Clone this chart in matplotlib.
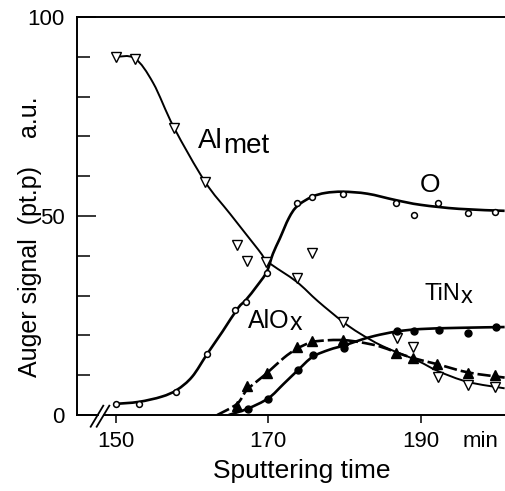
import numpy as np
import matplotlib
matplotlib.use('Agg')
import matplotlib.pyplot as plt
from matplotlib.path import Path
from matplotlib.patches import PathPatch
from matplotlib.lines import Line2D

plt.rcParams['font.family'] = ['Liberation Sans', 'DejaVu Sans']

# measured points (sputtering time in min, Auger signal in a.u.)
al_met_t = [150, 152.5, 157.6, 161.7, 165.9, 167.2, 169.7, 173.7, 175.7, 179.8, 186.9, 189.0, 192.3, 196.2, 199.7]
al_met_v = [90.0, 89.5, 72.1, 58.5, 42.7, 38.7, 38.5, 34.4, 40.7, 23.4, 19.3, 17.0, 9.5, 7.5, 7.0]

o_t = [150, 153, 157.9, 161.9, 165.6, 167.1, 169.8, 173.8, 175.7, 179.8, 186.7, 189.1, 192.3, 196.2, 199.7]
o_v = [2.8, 2.8, 5.8, 15.4, 26.4, 28.4, 35.7, 53.2, 54.8, 55.5, 53.2, 50.3, 53.3, 50.7, 51.0]

tin_t = [167.3, 170.0, 173.9, 175.8, 179.9, 186.9, 189.1, 192.4, 196.2, 199.9]
tin_v = [1.5, 4.0, 11.3, 15.1, 16.8, 21.1, 21.1, 21.4, 20.6, 22.1]

alox_t = [165.9, 167.2, 169.8, 173.7, 175.7, 179.8, 186.7, 189.0, 192.1, 196.2, 199.7]
alox_v = [2.3, 7.3, 10.5, 17.0, 18.6, 18.8, 15.6, 14.3, 12.8, 10.5, 10.0]

# hand drawn guide curves
al_met_fit_t = [150, 152.5, 154.9, 157.6, 161.7, 165, 168.7, 170, 173.7, 176.5, 179.8, 182, 185, 189.5, 192.3, 196.2, 201]
al_met_fit_v = [90, 89.6, 83.4, 72.3, 58.6, 50.5, 41.5, 38.4, 33.5, 28.6, 23.4, 20.5, 17.3, 13.7, 11.0, 8.3, 6.7]

o_fit_t = [150, 153, 156, 158, 160, 162, 164, 166, 167.1, 168.5, 169.8, 170.6, 171.5, 172.7, 173.8, 175.7, 177.5, 179.8, 183, 186.7, 190, 195, 201]
o_fit_v = [2.8, 3.3, 4.6, 6.3, 9.6, 15.4, 21.0, 26.8, 29.0, 32.4, 36.0, 40.5, 44.3, 49.5, 52.5, 54.8, 55.8, 56.1, 55.6, 54.0, 52.8, 51.8, 51.3]

tin_fit_t = [164.8, 167.3, 170, 172, 173.9, 175.8, 178, 180, 182, 184, 186.9, 190, 195, 201]
tin_fit_v = [0, 1.6, 4.2, 7.8, 11.3, 14.6, 16.4, 17.5, 18.8, 19.9, 21.0, 21.6, 21.9, 22.1]

alox_fit_t = [163.3, 165.9, 167.2, 169.8, 172, 173.7, 175.7, 178, 180, 182, 184.5, 186.7, 189, 192.1, 196.2, 201]
alox_fit_v = [0, 2.8, 6.3, 10.5, 14.3, 16.6, 18.3, 18.8, 18.8, 18.3, 17.3, 15.8, 14.3, 12.8, 10.7, 9.4]

x_ticks = [150, 170, 190]
y_major = [0, 50, 100]
y_minor = [10, 20, 30, 40, 60, 70, 80, 90]


def smooth_path(xs, ys):
    # catmull-rom through the knots, drawn as bezier segments
    pts = np.column_stack([xs, ys]).astype(float)
    ext = np.vstack([pts[0], pts, pts[-1]])
    verts = [pts[0]]
    codes = [Path.MOVETO]
    for i in range(1, len(ext) - 2):
        p0, p1, p2, p3 = ext[i - 1], ext[i], ext[i + 1], ext[i + 2]
        verts += [p1 + (p2 - p0) / 6, p2 - (p3 - p1) / 6, p2]
        codes += [Path.CURVE4] * 3
    return Path(verts, codes)


fig = plt.figure(figsize=(5.05, 4.91), dpi=100)
ax = fig.add_axes([77 / 505, 1 - 415 / 491, 428 / 505, 398 / 491])
ax.set_xlim(144.9, 201.05)
ax.set_ylim(0, 100)

ax.add_patch(PathPatch(smooth_path(al_met_fit_t, al_met_fit_v), fill=False, lw=1.4, ec='black', zorder=2))
ax.add_patch(PathPatch(smooth_path(o_fit_t, o_fit_v), fill=False, lw=1.9, ec='black', zorder=2))
ax.add_patch(PathPatch(smooth_path(tin_fit_t, tin_fit_v), fill=False, lw=1.9, ec='black', zorder=2))
ax.add_patch(PathPatch(smooth_path(alox_fit_t, alox_fit_v), fill=False, lw=1.9, ec='black',
                       ls=(0, (5, 1.5)), zorder=2))

ax.plot(al_met_t, al_met_v, 'v', ms=6.5, mfc='white', mec='black', mew=1.0, zorder=4)
ax.plot(o_t, o_v, 'o', ms=4.2, mfc='white', mec='black', mew=1.1, zorder=4)
ax.plot(tin_t, tin_v, 'o', ms=5, mfc='black', mec='black', zorder=4)
ax.plot(alox_t, alox_v, '^', ms=6.5, mfc='black', mec='black', zorder=4)

# axes frame
for side in ['right', 'bottom']:
    ax.spines[side].set_visible(False)
for side in ['top', 'left']:
    ax.spines[side].set_linewidth(1.4)

ax.add_line(Line2D([0, 0.0484], [0, 0], transform=ax.transAxes, color='black', lw=1.4, clip_on=False))
ax.add_line(Line2D([0.0624, 1], [0, 0], transform=ax.transAxes, color='black', lw=1.4, clip_on=False))
# axis break
ax.add_line(Line2D([0.0320, 0.0614], [-0.0294, 0.0234], transform=ax.transAxes, color='black', lw=1.3, clip_on=False))
ax.add_line(Line2D([0.0460, 0.0755], [-0.0294, 0.0234], transform=ax.transAxes, color='black', lw=1.3, clip_on=False))

ax.set_xticks(x_ticks)
ax.set_yticks(y_major)
ax.set_yticks(y_minor, minor=True)
ax.tick_params(axis='y', which='major', direction='in', length=14, width=1.1, labelsize=16, pad=9)
ax.tick_params(axis='y', which='minor', direction='in', length=9, width=1.1)
ax.tick_params(axis='x', direction='out', length=5.8, width=1.1, labelsize=16, pad=6)

ax.annotate('min', xy=(197.9, 0), xycoords=('data', 'axes fraction'), xytext=(0, -11.8),
            textcoords='offset points', ha='center', va='top', fontsize=16)

ax.text(0.5257, -0.158, 'Sputtering time', transform=ax.transAxes, ha='center', va='baseline', fontsize=19)
ax.text(-0.0935, 0.4485, 'Auger signal  (pt.p)    a.u.', transform=ax.transAxes, rotation=90,
        rotation_mode='anchor', ha='center', va='baseline', fontsize=18)


def label(x, y, main, tail, size, drop):
    t = ax.text(x, y, main, fontsize=size, ha='left', va='baseline')
    if tail:
        ax.annotate(tail, xy=(1, 0), xycoords=t, xytext=(0.5, -drop), textcoords='offset points',
                    fontsize=size, ha='left', va='bottom')


label(160.75, 67.1, 'Al', 'met', 20, 4)
label(190.5, 28.9, 'TiN', 'x', 17, 2)
label(167.3, 21.9, 'AlO', 'x', 18, 1.5)
ax.text(191.2, 56.0, 'O', fontsize=19, ha='center', va='baseline')

fig.savefig('out.png', dpi=100)
